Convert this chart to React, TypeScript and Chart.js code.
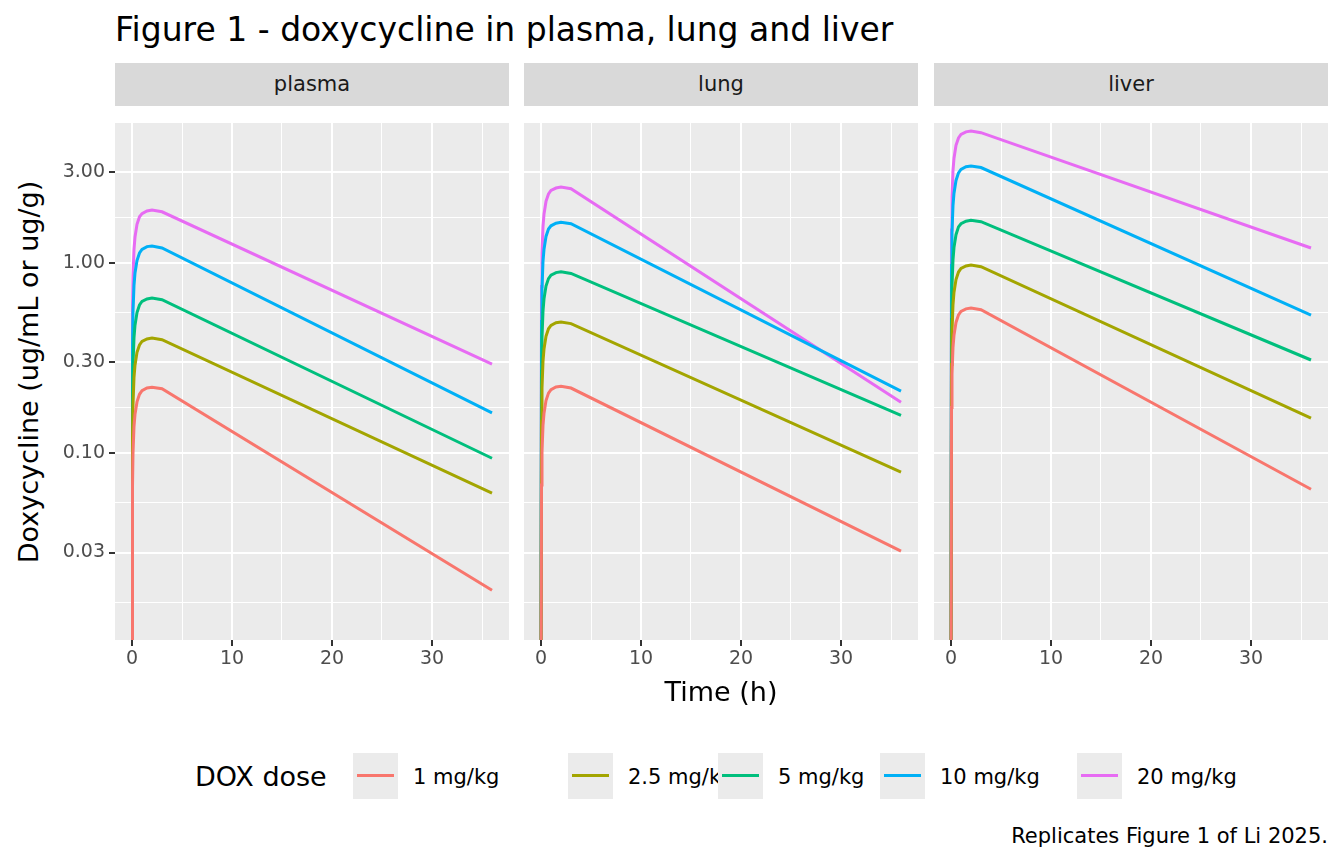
import React, { useEffect, useRef } from "react";
import { Chart, registerables } from "chart.js";
Chart.register(...registerables);

const doses = ["1 mg/kg", "2.5 mg/kg", "5 mg/kg", "10 mg/kg", "20 mg/kg"];
const colors = ["#F8766D", "#A3A500", "#00BF7D", "#00B0F6", "#E76BF3"];
const panels = ["plasma", "lung", "liver"];
const times = [0, 0.05, 0.1, 0.2, 0.3, 0.5, 0.75, 1, 1.5, 2, 3, 36];
const plasma = [
  [0.005, 0.067, 0.1, 0.138, 0.16, 0.186, 0.204, 0.213, 0.22, 0.222, 0.218, 0.019],
  [0.005, 0.121, 0.181, 0.25, 0.29, 0.339, 0.371, 0.387, 0.399, 0.403, 0.395, 0.0616],
  [0.005, 0.196, 0.294, 0.405, 0.471, 0.549, 0.602, 0.628, 0.647, 0.654, 0.641, 0.094],
  [0.005, 0.369, 0.554, 0.763, 0.886, 1.03, 1.13, 1.18, 1.22, 1.23, 1.2, 0.163],
  [0.005, 0.57, 0.855, 1.18, 1.37, 1.6, 1.75, 1.82, 1.88, 1.9, 1.86, 0.294],
];
const lung = [
  [0.005, 0.068, 0.101, 0.14, 0.162, 0.189, 0.207, 0.216, 0.223, 0.225, 0.22, 0.0305],
  [0.005, 0.147, 0.22, 0.304, 0.353, 0.412, 0.451, 0.47, 0.485, 0.49, 0.48, 0.0795],
  [0.005, 0.27, 0.405, 0.558, 0.648, 0.756, 0.828, 0.864, 0.891, 0.9, 0.882, 0.158],
  [0.005, 0.492, 0.738, 1.02, 1.18, 1.38, 1.51, 1.57, 1.62, 1.64, 1.61, 0.212],
  [0.005, 0.753, 1.13, 1.56, 1.81, 2.11, 2.31, 2.41, 2.48, 2.51, 2.46, 0.185],
];
const liver = [
  [0.005, 0.174, 0.261, 0.36, 0.418, 0.487, 0.534, 0.557, 0.574, 0.58, 0.568, 0.0646],
  [0.005, 0.293, 0.439, 0.605, 0.702, 0.819, 0.897, 0.936, 0.965, 0.975, 0.956, 0.153],
  [0.005, 0.504, 0.756, 1.04, 1.21, 1.41, 1.55, 1.61, 1.66, 1.68, 1.65, 0.309],
  [0.005, 0.972, 1.46, 2.01, 2.33, 2.72, 2.98, 3.11, 3.21, 3.24, 3.18, 0.532],
  [0.005, 1.49, 2.23, 3.07, 3.56, 4.16, 4.55, 4.75, 4.9, 4.95, 4.85, 1.2],
];
const panelData = [plasma, lung, liver];
const yMajor = [0.03, 0.1, 0.3, 1, 3];
const yMinor = [0.0164, 0.0548, 0.173, 0.548, 1.73, 5.48];
const xMajor = [0, 10, 20, 30];
const xMinor = [5, 15, 25, 35];

const FONT = "'DejaVu Sans', sans-serif";
const PLOT_TOP = 122, PLOT_H = 518, PLOT_W = 394;
const EXTRA_TOP = 20, XAXIS_H = 42, EXTRA_BOTTOM = 10;
const panelLeft = [115, 524, 934];

const bgPlugin = {
  id: "bg",
  beforeDraw(c: any) {
    const a = c.chartArea;
    c.ctx.save();
    c.ctx.fillStyle = "#EBEBEB";
    c.ctx.fillRect(a.left, a.top, a.right - a.left, a.bottom - a.top);
    c.ctx.restore();
  },
};

function Panel({ idx }: { idx: number }) {
  const ref = useRef<HTMLCanvasElement>(null);
  const yw = idx === 0 ? 62 : 0;
  const H = EXTRA_TOP + PLOT_H + XAXIS_H + EXTRA_BOTTOM;
  useEffect(() => {
    const data = panelData[idx];
    const chart = new Chart(ref.current!, {
      type: "line",
      data: {
        datasets: doses.map((d, i) => ({
          label: d,
          data: times.map((t, j) => ({ x: t, y: data[i][j] })),
          borderColor: colors[i],
          borderWidth: 3,
          pointRadius: 0,
          tension: 0,
        })),
      },
      plugins: [bgPlugin],
      options: {
        animation: false,
        responsive: false,
        layout: { padding: { top: EXTRA_TOP, bottom: EXTRA_BOTTOM, left: 0, right: 0 } },
        plugins: { legend: { display: false }, tooltip: { enabled: false } },
        scales: {
          x: {
            type: "linear",
            min: -1.7,
            max: 37.7,
            afterBuildTicks: (s: any) => {
              s.ticks = [...xMajor, ...xMinor].map((v) => ({ value: v }));
            },
            afterFit: (s: any) => { s.height = XAXIS_H; },
            border: { display: false },
            grid: {
              color: "#FFFFFF",
              lineWidth: (c: any) => (xMajor.includes(c.tick?.value) ? 2 : 1),
              tickColor: (c: any) => (xMajor.includes(c.tick?.value) ? "#333333" : "rgba(0,0,0,0)"),
              tickLength: 6,
            },
            ticks: {
              autoSkip: false,
              maxRotation: 0,
              padding: 2,
              color: "#4D4D4D",
              font: { family: FONT, size: 19 },
              callback: (v: any) => (xMajor.includes(v) ? String(v) : ""),
            },
          },
          y: {
            type: "logarithmic",
            min: 0.0104,
            max: 5.52,
            afterBuildTicks: (s: any) => {
              s.ticks = [...yMajor, ...yMinor].map((v) => ({ value: v }));
            },
            afterFit: (s: any) => { s.width = yw; },
            border: { display: false },
            grid: {
              color: "#FFFFFF",
              lineWidth: (c: any) => (yMajor.includes(c.tick?.value) ? 2 : 1),
              tickColor: (c: any) => (idx === 0 && yMajor.includes(c.tick?.value) ? "#333333" : "rgba(0,0,0,0)"),
              tickLength: 6,
            },
            ticks: {
              display: idx === 0,
              autoSkip: false,
              padding: 4,
              color: "#4D4D4D",
              font: { family: FONT, size: 19 },
              callback: (v: any) => (yMajor.includes(v) ? Number(v).toFixed(2) : ""),
            },
          },
        },
      } as any,
    });
    return () => chart.destroy();
  }, [idx]);
  return (
    <canvas
      ref={ref}
      width={PLOT_W + yw}
      height={H}
      style={{ position: "absolute", left: panelLeft[idx] - yw, top: PLOT_TOP - EXTRA_TOP, width: PLOT_W + yw, height: H }}
    />
  );
}

const legendKeys = [353, 568, 718, 880, 1077];

export default function App() {
  const txt = (s: React.CSSProperties): React.CSSProperties => ({ position: "absolute", fontFamily: FONT, whiteSpace: "nowrap", lineHeight: 1, ...s });
  return (
    <div style={{ position: "fixed", left: 0, top: 0, width: 1344, height: 864, background: "#fff", overflow: "hidden" }}>
      <div style={txt({ left: 115, top: 13, fontSize: 33, color: "#000" })}>Figure 1 - doxycycline in plasma, lung and liver</div>
      {panels.map((p, i) => (
        <div key={p} style={txt({ left: panelLeft[i], top: 63, width: PLOT_W, height: 43, background: "#D9D9D9", color: "#1A1A1A", fontSize: 21, display: "flex", alignItems: "center", justifyContent: "center" })}>{p}</div>
      ))}
      {panels.map((p, i) => <Panel key={p} idx={i} />)}
      <div style={txt({ left: 721, top: 678, fontSize: 27, color: "#000", transform: "translateX(-50%)" })}>Time (h)</div>
      <div style={txt({ left: 28, top: 372, fontSize: 27, color: "#000", transform: "translate(-50%,-50%) rotate(-90deg)" })}>Doxycycline (ug/mL or ug/g)</div>
      <div style={txt({ left: 195, top: 763, fontSize: 27, color: "#000" })}>DOX dose</div>
      {doses.map((d, i) => (
        <React.Fragment key={d}>
          <div style={{ position: "absolute", left: legendKeys[i], top: 753, width: 45, height: 46, background: "#EBEBEB" }}>
            <div style={{ position: "absolute", left: 4, right: 4, top: 21, height: 3, background: colors[i] }} />
          </div>
          <div style={txt({ left: legendKeys[i] + 60, top: 767, fontSize: 21, color: "#000" })}>{d}</div>
        </React.Fragment>
      ))}
      <div style={txt({ right: 16, top: 826, fontSize: 21, color: "#000" })}>Replicates Figure 1 of Li 2025.</div>
    </div>
  );
}
